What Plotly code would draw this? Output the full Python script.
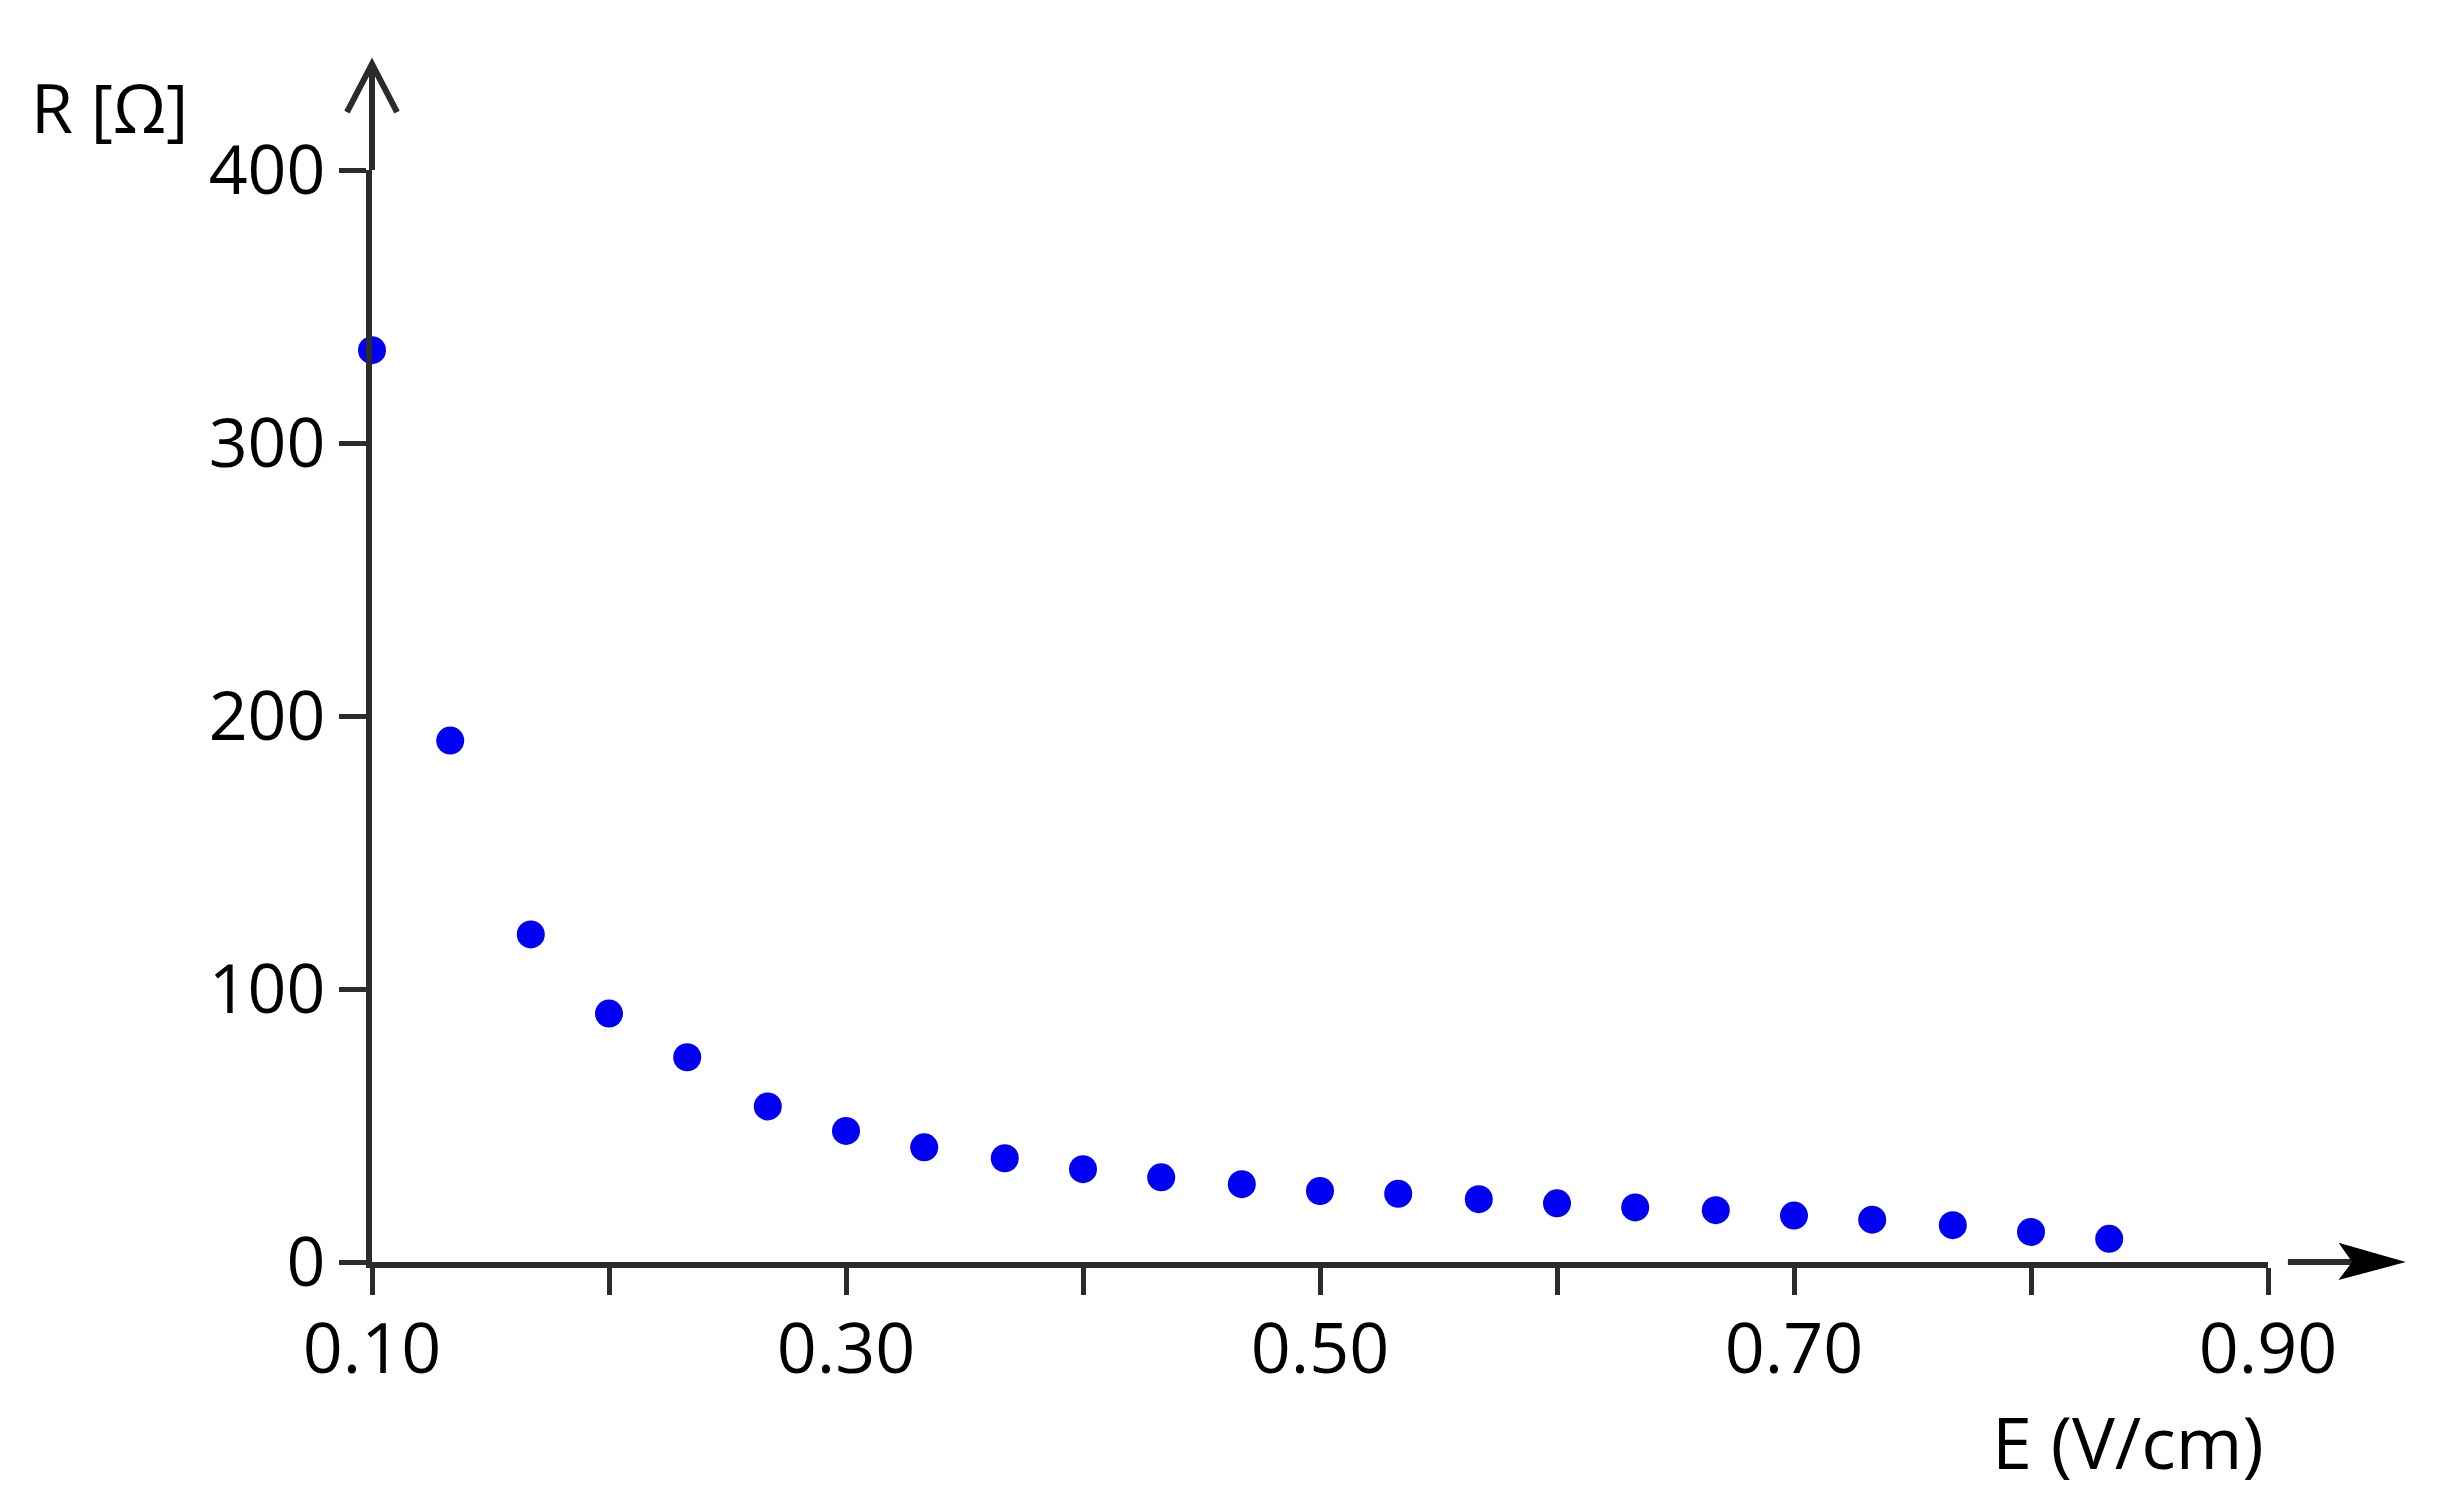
import plotly.graph_objects as go

# field strength E (V/cm) and resistance R (ohm)
e_field = [0.100, 0.133, 0.167, 0.200, 0.233, 0.267, 0.300, 0.333, 0.367, 0.400,
           0.433, 0.467, 0.500, 0.533, 0.567, 0.600, 0.633, 0.667, 0.700, 0.733,
           0.767, 0.800, 0.833]
resistance = [334, 191, 120, 91, 75, 57, 48, 42, 38, 34,
              31, 28.5, 26, 25, 23, 21.5, 20, 19, 17, 15.5,
              13.5, 11, 8.5]

x_ticks = [0.1, 0.2, 0.3, 0.4, 0.5, 0.6, 0.7, 0.8, 0.9]
x_tick_text = ["0.10", "", "0.30", "", "0.50", "", "0.70", "", "0.90"]
y_ticks = [0, 100, 200, 300, 400]
y_tick_text = ["0", "100", "200", "300", "400"]

AXIS = "#2b2b2b"
FONT = "Open Sans"

fig = go.Figure()
fig.add_trace(go.Scatter(
    x=e_field, y=resistance,
    mode="markers",
    marker=dict(size=28, color="#0000f5", line=dict(width=0)),
    cliponaxis=False,
    showlegend=False,
))

fig.update_xaxes(
    range=[0.1, 0.9],
    tickvals=x_ticks, ticktext=x_tick_text,
    ticks="outside", ticklen=27, tickwidth=5, tickcolor=AXIS,
    showline=True, linewidth=6, linecolor=AXIS,
    showgrid=False, zeroline=False,
    ticklabelstandoff=-6,
    tickfont=dict(family=FONT, size=70, color="black"),
)
fig.update_yaxes(
    range=[0, 400],
    tickvals=y_ticks, ticktext=y_tick_text,
    ticks="outside", ticklen=27, tickwidth=5, tickcolor=AXIS,
    showline=True, linewidth=6, linecolor=AXIS,
    showgrid=False, zeroline=False,
    tickfont=dict(family=FONT, size=68, color="black"),
)

# arrow heads on the axes (paper coordinates)
shapes = [
    # y axis extension and open chevron
    dict(type="line", xref="paper", yref="paper", x0=0, x1=0, y0=1.0, y1=1.098,
         line=dict(color=AXIS, width=6)),
    dict(type="path", xref="paper", yref="paper",
         path="M -0.0132,1.053 L 0,1.097 L 0.0132,1.053",
         line=dict(color=AXIS, width=6)),
    # x axis arrow detached from the axis end
    dict(type="line", xref="paper", yref="paper", x0=1.0105, x1=1.045, y0=0, y1=0,
         line=dict(color=AXIS, width=6)),
    dict(type="path", xref="paper", yref="paper",
         path="M 1.0707,0 L 1.0385,0.0160 L 1.0450,0 L 1.0385,-0.0150 Z",
         fillcolor="black", line=dict(color="black", width=2)),
]

annotations = [
    dict(text="R [Ω]", xref="paper", yref="paper", x=-0.181, y=1.058,
         xanchor="left", yanchor="middle", showarrow=False,
         font=dict(family=FONT, size=68, color="black")),
    dict(text="E (V/cm)", xref="paper", yref="paper", x=0.999, y=-0.164,
         xanchor="right", yanchor="middle", showarrow=False,
         font=dict(family=FONT, size=72, color="black")),
]

# page body adds an 8 px offset, so the margins are shifted to compensate
fig.update_layout(
    width=2438, height=1502, autosize=False,
    margin=dict(l=364, r=178, t=162, b=248, pad=0),
    plot_bgcolor="white", paper_bgcolor="white",
    shapes=shapes, annotations=annotations,
)

fig.write_html("out.html")
